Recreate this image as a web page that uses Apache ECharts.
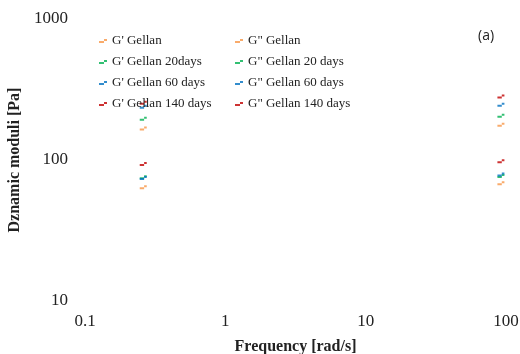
<!DOCTYPE html>
<html><head><meta charset="utf-8">
<script src="https://cdn.jsdelivr.net/npm/echarts@6/dist/echarts.min.js"></script>
<style>html,body{margin:0;padding:0;background:#fff}#c{width:520px;height:354px}</style>
</head><body><div id="c"></div>
<script>
var freqs = [0.26, 92];
var namesGp = ["G' Gellan", "G' Gellan 20days", "G' Gellan 60 days", "G' Gellan 140 days"];
var namesGpp = ['G" Gellan', 'G" Gellan 20 days', 'G" Gellan 60 days', 'G" Gellan 140 days'];
var gpGellan = [167, 178];
var gp20 = [196, 206];
var gp60 = [239, 247];
var gp140 = [255, 282];
var gppGellan = [64, 68.5];
var gpp20 = [75.6, 77];
var gpp60 = [74.4, 79];
var gpp140 = [93.6, 98];
var colors = ['#F79646', '#00B050', '#0070C0', '#C00000'];
var xTicks = [0.1, 1, 10, 100];
var yTicks = [10, 100, 1000];

var sym = 'path://M0,3 L5,3 L5,5 L0,5 Z M5,1 L8,1 L8,3 L5,3 Z';
function mk(name, vals, color) {
  return {
    name: name, type: 'scatter', symbol: sym, symbolSize: [7, 4],
    itemStyle: { color: color },
    data: freqs.map(function (f, i) { return [f, vals[i]]; })
  };
}
var gpVals = [gpGellan, gp20, gp60, gp140];
var gppVals = [gppGellan, gpp20, gpp60, gpp140];
var series = [];
for (var i = 0; i < 4; i++) series.push(mk(namesGp[i], gpVals[i], colors[i]));
for (var i = 0; i < 4; i++) series.push(mk(namesGpp[i], gppVals[i], colors[i]));

var serif = '"Liberation Serif", "Times New Roman", serif';
var legendBase = {
  orient: 'vertical', top: 29, itemGap: 7, itemWidth: 8, itemHeight: 5,
  icon: sym, textStyle: { fontFamily: serif, fontSize: 13, color: '#222', lineHeight: 14 },
  selectedMode: false
};
var chart = echarts.init(document.getElementById('c'), null, { renderer: 'canvas' });
chart.setOption({
  animation: false,
  backgroundColor: '#fff',
  grid: { left: 85, right: 14, top: 19, bottom: 53, outerBoundsMode: 'none', containLabel: false },
  title: { text: '(a)', left: 473, top: 24, textStyle: { fontFamily: '"Open Sans", "Liberation Sans", sans-serif', fontSize: 14, fontWeight: 'normal', color: '#222' } },
  legend: [
    Object.assign({}, legendBase, { left: 94, data: namesGp }),
    Object.assign({}, legendBase, { left: 230, data: namesGpp })
  ],
  xAxis: {
    type: 'log', logBase: 10, min: 0.1, max: 100,
    name: 'Frequency [rad/s]', nameLocation: 'middle', nameGap: 38,
    nameTextStyle: { fontFamily: serif, fontSize: 16, fontWeight: 'bold', color: '#222' },
    axisLine: { show: false }, axisTick: { show: false }, splitLine: { show: false },
    axisLabel: { fontFamily: serif, fontSize: 17, color: '#222', margin: 12,
      formatter: function (v) { var t = xTicks.filter(function (k) { return Math.abs(k - v) / k < 1e-6; }); return t.length ? String(t[0]) : ''; } }
  },
  yAxis: {
    type: 'log', logBase: 10, min: 10, max: 1000,
    name: 'Dznamic moduli [Pa]', nameLocation: 'middle', nameGap: 55, nameRotate: 90,
    nameTextStyle: { fontFamily: serif, fontSize: 16, fontWeight: 'bold', color: '#222' },
    axisLine: { show: false }, axisTick: { show: false }, splitLine: { show: false },
    axisLabel: { fontFamily: serif, fontSize: 17, color: '#222', margin: 17,
      formatter: function (v) { var t = yTicks.filter(function (k) { return Math.abs(k - v) / k < 1e-6; }); return t.length ? String(t[0]) : ''; } }
  },
  series: series
});
</script></body></html>
